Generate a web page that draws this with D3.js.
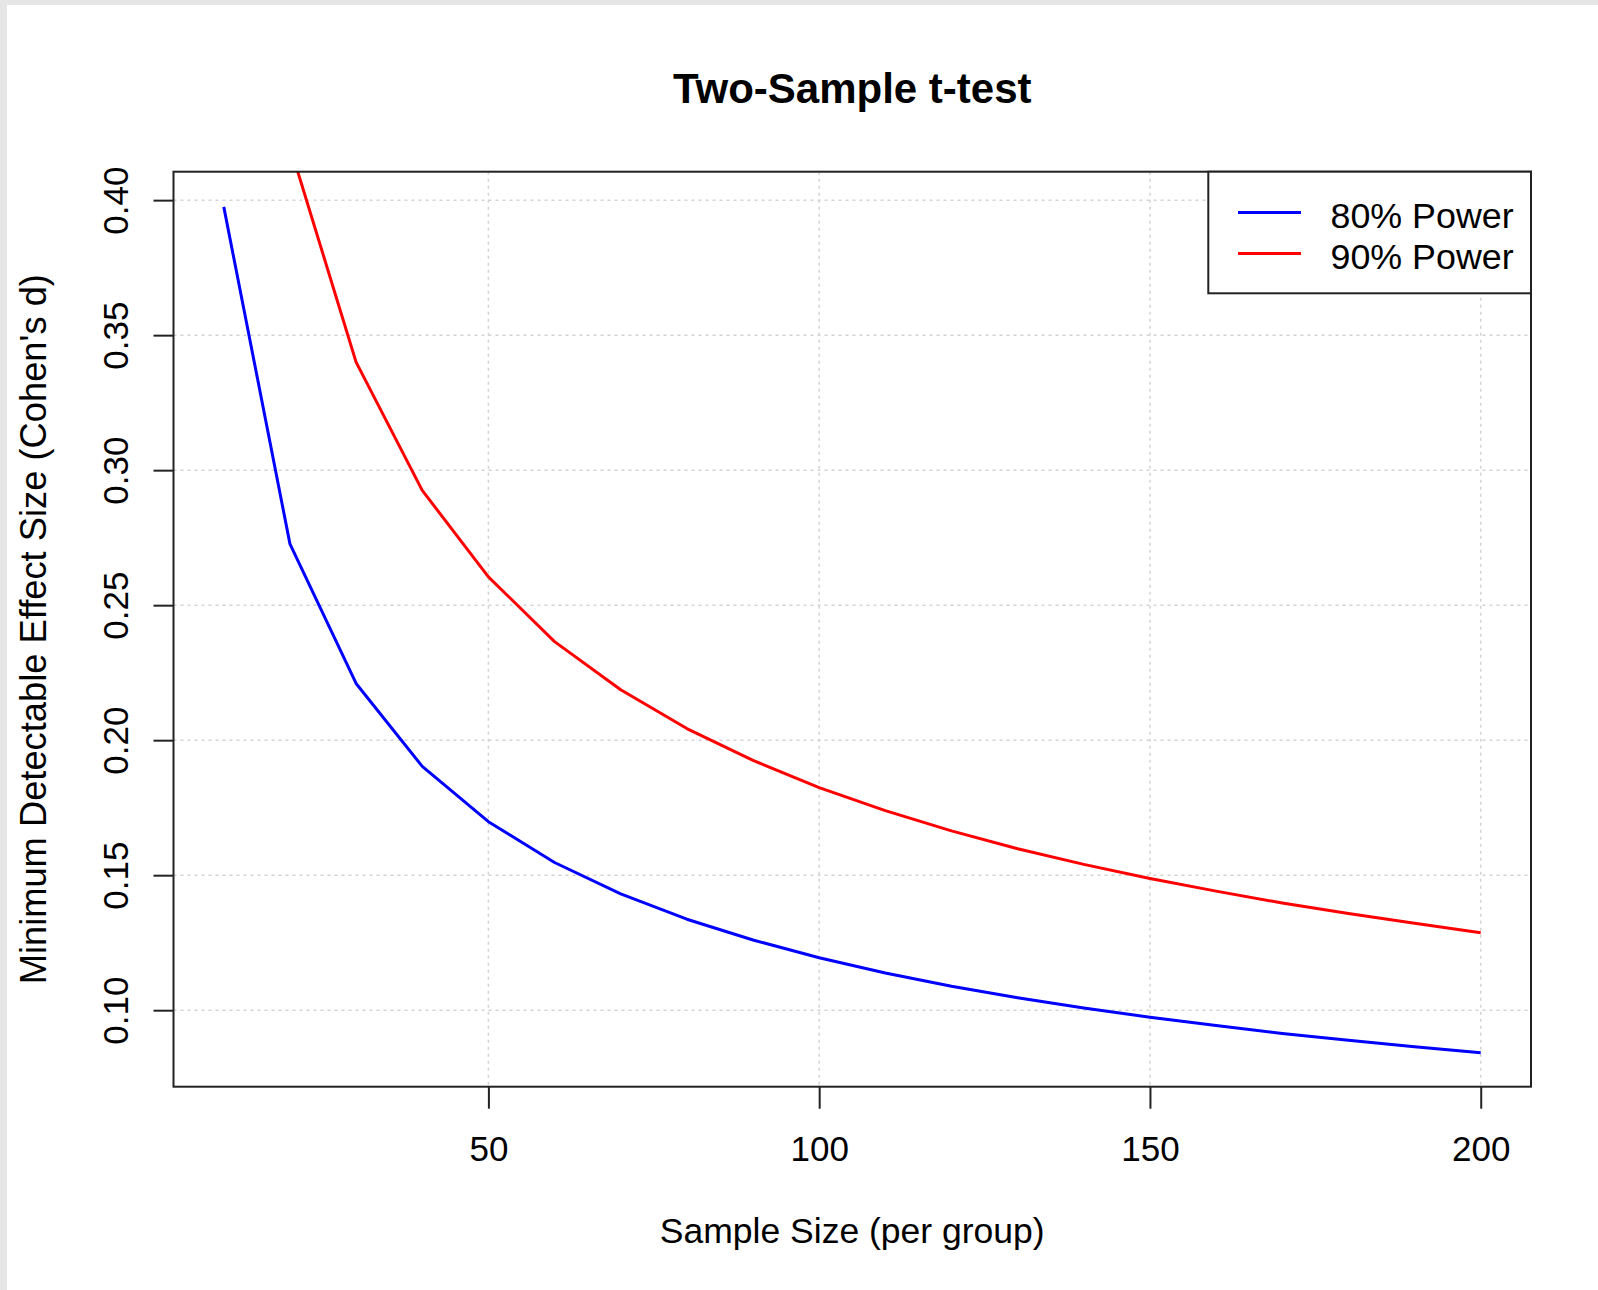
<!DOCTYPE html>
<html>
<head>
<meta charset="utf-8">
<script src="https://cdn.jsdelivr.net/npm/d3@7"></script>
<style>
  html, body { margin: 0; padding: 0; background: #e6e6e6; }
  svg { display: block; }
  text { font-family: "Liberation Sans", Arial, sans-serif; fill: #000; }
</style>
</head>
<body>
<svg id="chart" width="1598" height="1290"></svg>
<script>
// ---- data ----
const sampleSizes = [10, 20, 30, 40, 50, 60, 70, 80, 90, 100, 110, 120, 130, 140, 150, 160, 170, 180, 190, 200];
const power80 = [0.3975, 0.2727, 0.2210, 0.1903, 0.1698, 0.1547, 0.1431, 0.1337, 0.1260, 0.1194,
                 0.1138, 0.1089, 0.1046, 0.1008, 0.0974, 0.0943, 0.0914, 0.0889, 0.0865, 0.0842];
const power90 = [0.610, 0.420, 0.340, 0.2925, 0.2605, 0.2365, 0.2187, 0.2043, 0.1925, 0.1824,
                 0.1739, 0.1664, 0.1598, 0.1540, 0.1488, 0.1441, 0.1397, 0.1358, 0.1322, 0.1287];
const seriesNames = ["80% Power", "90% Power"];
const seriesColors = ["#0000ff", "#ff0000"];
const xTicks = [50, 100, 150, 200];
const yTicks = [0.10, 0.15, 0.20, 0.25, 0.30, 0.35, 0.40];
const titleText = "Two-Sample t-test";
const xLabel = "Sample Size (per group)";
const yLabel = "Minimum Detectable Effect Size (Cohen's d)";

// ---- layout ----
const W = 1598, H = 1290;
const plot = { left: 173.5, right: 1531, top: 171.7, bottom: 1086.7 };

const svg = d3.select("#chart");
svg.append("rect").attr("x", 0).attr("y", 0).attr("width", W).attr("height", H).attr("fill", "#e6e6e6");
svg.append("rect").attr("x", 7).attr("y", 5).attr("width", W - 7).attr("height", H - 5).attr("fill", "#ffffff");

// R-style 4% axis extension
const xExt = d3.extent(sampleSizes);
const xPad = (xExt[1] - xExt[0]) * 0.04;
const yExt = d3.extent(power80);
const yPad = (yExt[1] - yExt[0]) * 0.04;

const x = d3.scaleLinear().domain([xExt[0] - xPad, xExt[1] + xPad]).range([plot.left, plot.right]);
const y = d3.scaleLinear().domain([yExt[0] - yPad, yExt[1] + yPad + 0.0005]).range([plot.bottom, plot.top]);

// clip
svg.append("defs").append("clipPath").attr("id", "plotClip")
  .append("rect").attr("x", plot.left).attr("y", plot.top)
  .attr("width", plot.right - plot.left).attr("height", plot.bottom - plot.top);

// grid
const grid = svg.append("g").attr("stroke", "#d3d3d3").attr("stroke-width", 1.5).attr("stroke-dasharray", "3,4");
grid.selectAll("line.v").data(xTicks).join("line").attr("class", "v")
  .attr("x1", d => x(d)).attr("x2", d => x(d)).attr("y1", plot.top).attr("y2", plot.bottom);
grid.selectAll("line.h").data(yTicks).join("line").attr("class", "h")
  .attr("x1", plot.left).attr("x2", plot.right).attr("y1", d => y(d)).attr("y2", d => y(d));

// lines
const series = [power80, power90].map((vals, i) => ({
  name: seriesNames[i], color: seriesColors[i],
  values: sampleSizes.map((n, j) => ({ n: n, d: vals[j] }))
}));
const line = d3.line().x(d => x(d.n)).y(d => y(d.d));
svg.append("g").attr("clip-path", "url(#plotClip)")
  .selectAll("path").data(series).join("path")
  .attr("d", s => line(s.values))
  .attr("fill", "none").attr("stroke", s => s.color).attr("stroke-width", 3)
  .attr("stroke-linejoin", "round");

// axes
const xAxis = d3.axisBottom(x).tickValues(xTicks).tickSize(22).tickSizeOuter(0).tickPadding(12).tickFormat(d3.format("d"));
const gx = svg.append("g").attr("transform", `translate(0,${plot.bottom})`).call(xAxis);
gx.select(".domain").remove();
gx.selectAll(".tick line").attr("stroke", "#222").attr("stroke-width", 2);
gx.selectAll(".tick text").attr("font-size", 35).attr("dy", null).attr("y", 1161 - plot.bottom)
  .attr("font-family", "Liberation Sans, Arial, sans-serif");

const yAxis = d3.axisLeft(y).tickValues(yTicks).tickSize(20).tickSizeOuter(0).tickFormat(d3.format(".2f"));
const gy = svg.append("g").attr("transform", `translate(${plot.left},0)`).call(yAxis);
gy.select(".domain").remove();
gy.selectAll(".tick line").attr("stroke", "#222").attr("stroke-width", 2);
gy.selectAll(".tick text")
  .attr("font-size", 35).attr("font-family", "Liberation Sans, Arial, sans-serif")
  .attr("x", null).attr("dy", null).attr("text-anchor", "middle")
  .attr("transform", `translate(${128 - plot.left},0) rotate(-90)`);

// box
svg.append("rect").attr("x", plot.left).attr("y", plot.top)
  .attr("width", plot.right - plot.left).attr("height", plot.bottom - plot.top)
  .attr("fill", "none").attr("stroke", "#222").attr("stroke-width", 2);

// titles
svg.append("text").attr("x", (plot.left + plot.right) / 2).attr("y", 103)
  .attr("text-anchor", "middle").attr("font-size", 42).attr("font-weight", "bold").text(titleText);
svg.append("text").attr("x", (plot.left + plot.right) / 2).attr("y", 1243)
  .attr("text-anchor", "middle").attr("font-size", 35.5).text(xLabel);
svg.append("text").attr("transform", `translate(46,${(plot.top + plot.bottom) / 2}) rotate(-90)`)
  .attr("text-anchor", "middle").attr("font-size", 36.3).text(yLabel);

// legend
const leg = svg.append("g");
leg.append("rect").attr("x", 1208.3).attr("y", plot.top).attr("width", plot.right - 1208.3).attr("height", 293.3 - plot.top)
  .attr("fill", "#fff").attr("stroke", "#222").attr("stroke-width", 2);
series.forEach((s, i) => {
  const ly = 212.5 + i * 41;
  leg.append("line").attr("x1", 1238).attr("x2", 1301).attr("y1", ly).attr("y2", ly)
    .attr("stroke", s.color).attr("stroke-width", 3);
  leg.append("text").attr("x", 1330.5).attr("y", 228.3 + i * 40.5).attr("font-size", 35.8).text(s.name);
});
</script>
</body>
</html>
